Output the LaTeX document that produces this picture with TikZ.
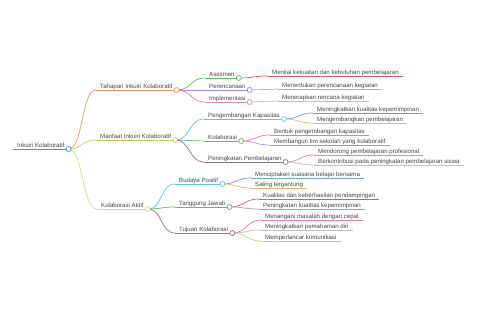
\documentclass[tikz,border=0pt]{standalone}
\usepackage{fontspec}
\setmainfont{Liberation Sans}
\usepackage{tikz}
\usetikzlibrary{positioning}
\definecolor{txtgray}{RGB}{70,70,70}
\definecolor{cRoot}{RGB}{74,144,200}
\definecolor{cOrange}{RGB}{240,150,90}
\definecolor{cOlive}{RGB}{195,205,90}
\definecolor{cYellow}{RGB}{215,222,115}
\definecolor{cGreen}{RGB}{100,185,100}
\definecolor{cPurple}{RGB}{160,130,220}
\definecolor{cPink}{RGB}{230,130,180}
\definecolor{cCyan}{RGB}{90,200,220}
\definecolor{cMauve}{RGB}{160,110,130}
\definecolor{cRed}{RGB}{225,90,90}
\definecolor{cGrayP}{RGB}{180,172,200}
\definecolor{cGray}{RGB}{190,190,190}
\definecolor{cBlue}{RGB}{110,160,210}
\definecolor{cLOrange}{RGB}{245,180,110}
\definecolor{cRose}{RGB}{228,125,155}
\definecolor{cLav}{RGB}{170,150,230}
\definecolor{cLime}{RGB}{200,220,100}
\tikzset{
  tnode/.style={anchor=south west,inner xsep=4pt,inner ysep=1.4pt,text depth=0pt,
    font=\fontsize{6.1}{7}\selectfont,text=txtgray},
  ln/.style={line width=.7pt},
  knob/.style={circle,draw,fill=white,line width=.7pt,inner sep=0pt,minimum size=5pt},
  bez/.style={ln,to path={.. controls +(15,0) and +(-15,0) .. (\tikztotarget)}}
}

\begin{document}
\begin{tikzpicture}[x=1pt,y=-1pt]
  \useasboundingbox[fill=white] (0,0) rectangle (480,320);
  % root
  \node[tnode] (root) at (13,149) {Inkuiri Kolaboratif};
  % main branches
  \node[tnode] (tah) at (96,90) {Tahapan Inkuiri Kolaboratif};
  \node[tnode] (man) at (96,140) {Manfaat Inkuiri Kolaboratif};
  \node[tnode] (kak) at (97,209) {Kolaborasi Aktif};
  % sub branches
  \node[tnode] (ase) at (205,78) {Asesmen};
  \node[tnode] (per) at (205,90) {Perencanaan};
  \node[tnode] (imp) at (205,102) {Implementasi};
  \node[tnode] (pen) at (204,119) {Pengembangan Kapasitas};
  \node[tnode] (kol) at (204,141) {Kolaborasi};
  \node[tnode] (pnb) at (204,162) {Peningkatan Pembelajaran};
  \node[tnode] (bud) at (175,184) {Budaya Positif};
  \node[tnode] (tgj) at (175,207) {Tanggung Jawab};
  \node[tnode] (tuj) at (175,233) {Tujuan Kolaborasi};
  % leaves
  \node[tnode] (ase1) at (268,76) {Menilai kekuatan dan kebutuhan pembelajaran};
  \node[tnode] (per1) at (278,89) {Menentukan perencanaan kegiatan};
  \node[tnode] (imp1) at (278,101) {Menerapkan rencana kegiatan};
  \node[tnode] (pen1) at (313,113) {Meningkatkan kualitas kepemimpinan};
  \node[tnode] (pen2) at (313,123) {Mengembangkan pembelajaran};
  \node[tnode] (kol1) at (270,135) {Bentuk pengembangan kapasitas};
  \node[tnode] (kol2) at (270,145) {Membangun tim sekolah yang kolaboratif};
  \node[tnode] (pnb1) at (314,155) {Mendorong pembelajaran profesional};
  \node[tnode] (pnb2) at (314,165) {Berkontribusi pada peningkatan pembelajaran siswa};
  \node[tnode] (bud1) at (251,178) {Menciptakan suasana belajar bersama};
  \node[tnode] (bud2) at (251,188) {Saling tergantung};
  \node[tnode] (tgj1) at (259,199) {Kualitas dan keberhasilan pendampingan};
  \node[tnode] (tgj2) at (259,209) {Peningkatan kualitas kepemimpinan};
  \node[tnode] (tuj1) at (261,220) {Menangani masalah dengan cepat};
  \node[tnode] (tuj2) at (261,230) {Meningkatkan pemahaman diri};
  \node[tnode] (tuj3) at (261,241) {Memperlancar komunikasi};

  % connectors (parent knob to child line)
  \foreach \p/\c/\k in {root/tah/cOrange,root/man/cOlive,root/kak/cYellow,
      tah/ase/cGreen,tah/per/cPurple,tah/imp/cPink,
      man/pen/cCyan,man/kol/cGreen,man/pnb/cMauve,
      kak/bud/cCyan,kak/tgj/cGreen,kak/tuj/cMauve,
      ase/ase1/cRed,per/per1/cGrayP,imp/imp1/cGray,
      pen/pen1/cBlue,pen/pen2/cLOrange,kol/kol1/cRose,kol/kol2/cLav,
      pnb/pnb1/cRose,pnb/pnb2/cGray,bud/bud1/cBlue,bud/bud2/cLOrange,
      tgj/tgj1/cRed,tgj/tgj2/cLav,tuj/tuj1/cRose,tuj/tuj2/cGray,tuj/tuj3/cLime}
    \draw[bez,\k] (\p.south east) to (\c.south west);
  % underlines
  \foreach \n/\k in {root/cRoot,tah/cOrange,man/cOlive,kak/cYellow,
      ase/cGreen,per/cPurple,imp/cPink,pen/cCyan,kol/cGreen,pnb/cMauve,
      bud/cCyan,tgj/cGreen,tuj/cMauve,
      ase1/cRed,per1/cGrayP,imp1/cGray,pen1/cBlue,pen2/cLOrange,
      kol1/cRose,kol2/cLav,pnb1/cRose,pnb2/cGray,bud1/cBlue,bud2/cLOrange,
      tgj1/cRed,tgj2/cLav,tuj1/cRose,tuj2/cGray,tuj3/cLime}
    \draw[ln,\k] (\n.south west) -- (\n.south east);
  % knobs
  \foreach \n/\k in {root/cRoot,tah/cOrange,man/cOlive,kak/cYellow,
      ase/cGreen,per/cPurple,imp/cPink,pen/cCyan,kol/cGreen,pnb/cMauve,
      bud/cCyan,tgj/cGreen,tuj/cMauve}
    \node[knob,draw=\k] (\n k) at (\n.south east) {};
\end{tikzpicture}
\end{document}
